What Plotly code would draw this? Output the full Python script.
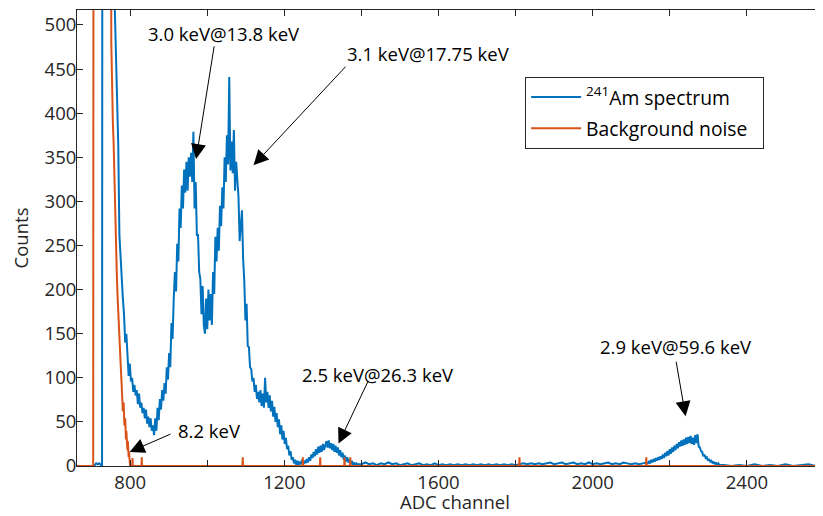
import plotly.graph_objects as go

# ---------------- data ----------------
# 241Am spectrum: irregular leading part
am_lead_channel = [662, 700, 708, 712, 716, 720, 724, 727, 728, 758]
am_lead_counts = [0, 0, 1, 3, 2, 3, 1, 0, 900, 900]

# main region, channels 760, 763, ... (every 3 channels)
am_main_start = 760
am_main_step = 3
am_main_counts = [
    520, 470, 440, 365, 262, 235, 214, 190, 172, 140,
    150, 118, 102, 116, 96, 100, 84, 92, 80, 86,
    70, 82, 66, 72, 60, 66, 54, 64, 48, 56,
    44, 54, 40, 46, 35, 54, 40, 66, 52, 76,
    64, 86, 74, 94, 82, 112, 98, 128, 112, 162,
    144, 190, 220, 198, 252, 232, 292, 270, 318, 292,
    336, 310, 345, 312, 350, 328, 355, 322, 379, 292,
    322, 262, 262, 220, 212, 172, 204, 160, 150, 190,
    155, 200, 165, 195, 160, 220, 195, 260, 232, 270,
    244, 295, 272, 316, 292, 350, 322, 375, 342, 441,
    335, 368, 332, 381, 312, 345, 318, 305, 255, 275,
    290, 235, 210, 165, 184, 136, 135, 112, 110, 96,
    100, 84, 92, 76, 84, 72, 86, 68, 82, 66,
    100, 72, 84, 66, 80, 62, 74, 56, 67, 50,
    60, 44, 53, 36, 46, 30, 40, 25, 32, 19,
    23, 12, 17, 7, 10, 3, 7, 1, 6, 1,
    5, 2, 7, 2, 6, 3, 8, 4, 10, 6,
    13, 9, 16, 11, 19, 13, 22, 15, 23, 16,
    25, 18, 24, 28, 21, 29, 20, 26, 18, 25,
    16, 23, 15, 21, 12, 18, 10, 15, 7, 12,
    5, 10, 4, 8, 2, 6, 1, 4, 1, 3,
    2,
]

# flat region, channels 1400, 1410, ... (every 10 channels)
am_flat_start = 1400
am_flat_step = 10
am_flat_counts = [
    2, 4, 2, 3, 1, 3, 2, 4, 2, 3,
    1, 2, 3, 1, 2, 3, 1, 2, 1, 3,
    1, 2, 1, 2, 1, 2, 1, 2, 1, 2,
    1, 2, 1, 2, 1, 2, 1, 2, 1, 2,
    1, 2, 3, 2, 3, 2, 3, 2, 3, 4,
    2, 3, 4, 2, 3, 4, 2, 3, 2, 4,
    2, 3, 2, 3, 4, 2, 3, 2, 4, 3,
    2, 3, 2, 3, 4,
]

# 59.6 keV peak, channels 2143, 2146, ... (every 3 channels)
am_peak_start = 2143
am_peak_step = 3
am_peak_counts = [
    3, 5, 3, 7, 4, 8, 5, 9, 6, 10,
    7, 11, 8, 13, 9, 15, 11, 17, 12, 19,
    14, 21, 16, 23, 18, 25, 20, 27, 22, 29,
    23, 30, 24, 32, 25, 33, 26, 34, 25, 32,
    24, 35, 26, 36, 22, 21, 17, 16, 11, 13,
    9, 10, 6, 8, 5, 6, 3, 5, 2, 4,
    1, 3, 1,
]

am_tail_channel = [2340, 2360, 2380, 2400, 2420, 2440, 2460, 2480, 2500, 2520, 2540, 2560, 2580, 2600]
am_tail_counts = [1, 0, 1, 0, 2, 0, 1, 0, 2, 0, 1, 2, 0, 1]

# Background noise
bg_lead_channel = [662, 704, 705, 749, 751, 753, 755, 757, 759, 761, 763, 765, 767, 769, 771,
                   773, 775, 777, 779, 781, 783, 785, 787, 789, 790, 792, 793, 794, 796, 797, 799, 800]
bg_lead_counts = [0, 0, 900, 900, 480, 420, 390, 366, 320, 290, 250, 222, 195, 170, 150,
                  132, 118, 100, 84, 62, 72, 46, 54, 30, 40, 24, 18, 28, 10, 16, 4, 0]
bg_spike_channel = [806, 830, 1092, 1248, 1293, 1356, 1371, 1810, 2139]
bg_spike_counts = [9, 10, 10, 10, 10, 10, 10, 10, 10]
bg_end_channel = 2600

x_tick_values = [800, 1000, 1200, 1400, 1600, 1800, 2000, 2200, 2400]
x_tick_labels = ["800", "", "1200", "", "1600", "", "2000", "", "2400"]
y_tick_values = [0, 50, 100, 150, 200, 250, 300, 350, 400, 450, 500]

# ---------------- assemble series ----------------
am_x = list(am_lead_channel)
am_y = list(am_lead_counts)
for start, step, vals in [(am_main_start, am_main_step, am_main_counts),
                          (am_flat_start, am_flat_step, am_flat_counts),
                          (am_peak_start, am_peak_step, am_peak_counts)]:
    am_x += [start + step * i for i in range(len(vals))]
    am_y += vals
am_x += am_tail_channel
am_y += am_tail_counts

bg_x = list(bg_lead_channel)
bg_y = list(bg_lead_counts)
for ch, h in zip(bg_spike_channel, bg_spike_counts):
    bg_x += [ch - 0.8, ch, ch + 0.8]
    bg_y += [0, h, 0]
bg_x.append(bg_end_channel)
bg_y.append(0)

BLUE = "#0072BD"
ORANGE = "#D95319"
AX = "#262626"
FONT = "Open Sans"

fig = go.Figure()
fig.add_trace(go.Scatter(x=am_x, y=am_y, mode="lines", name="<sup>241</sup>Am spectrum",
                         line=dict(color=BLUE, width=2), legendgroup="a"))
fig.add_trace(go.Scatter(x=bg_x, y=bg_y, mode="lines", name="Background noise\u00a0\u00a0",
                         line=dict(color=ORANGE, width=2), legendgroup="b"))

# annotations: (text, text_x, text_y, head_x, head_y, ax, ay)
notes = [
    ("3.0 keV@13.8 keV", 1043.5, 490.6, 971, 348, 18.3, -114.3),
    ("3.1 keV@17.75 keV", 1575, 467.9, 1120, 341, 93.4, -100),
    ("8.2 keV", 1004.6, 40.5, 798.4, 16, 42.4, -18.4),
    ("2.5 keV@26.3 keV", 1442, 104, 1340.5, 25.4, 30, -63.3),
    ("2.9 keV@59.6 keV", 2217, 135, 2241, 56.4, -9.7, -56),
]
for text, tx, ty, hx, hy, ax, ay in notes:
    fig.add_annotation(x=tx, y=ty, text=text, showarrow=False,
                       font=dict(family=FONT, size=18.5, color="black"))
    fig.add_annotation(x=hx, y=hy, text="", showarrow=True, ax=ax, ay=ay,
                       arrowhead=2, arrowsize=3, arrowwidth=1, arrowcolor="black", standoff=0)

# x-axis title placed as a paper annotation (sits lower than the margin allows a title)
fig.add_annotation(x=0.5062, y=0, xref="paper", yref="paper", yanchor="middle", yshift=-35.5,
                   text="ADC channel", showarrow=False, borderpad=0,
                   font=dict(family=FONT, size=18.5, color=AX))

# page body has an 8px margin, so the figure is 8px smaller than the window
fig.update_layout(
    width=815, height=508,
    margin=dict(l=69, r=0, t=2, b=50),
    paper_bgcolor="white", plot_bgcolor="white",
    font=dict(family=FONT, size=18.5, color=AX),
    showlegend=True,
    legend=dict(x=0.6007, y=0.853, xanchor="left", yanchor="top",
                bordercolor=AX, borderwidth=1, bgcolor="white",
                font=dict(family=FONT, size=19.3, color="black"),
                tracegroupgap=3, itemwidth=50),
)
fig.update_xaxes(range=[662, 2597.5], tickvals=x_tick_values, ticktext=x_tick_labels,
                 ticks="inside", ticklen=6, tickcolor=AX, tickwidth=1,
                 showline=True, linecolor=AX, linewidth=1, mirror="ticks",
                 showgrid=False, zeroline=False, automargin=False)
fig.update_yaxes(range=[0, 517], tickvals=y_tick_values,
                 ticks="inside", ticklen=6, tickcolor=AX, tickwidth=1,
                 showline=True, linecolor=AX, linewidth=1, mirror=False,
                 showgrid=False, zeroline=False, ticklabelstandoff=-4, automargin=False,
                 title=dict(text="Counts", font=dict(family=FONT, size=18.5, color=AX), standoff=12))

fig.write_html("out.html")
